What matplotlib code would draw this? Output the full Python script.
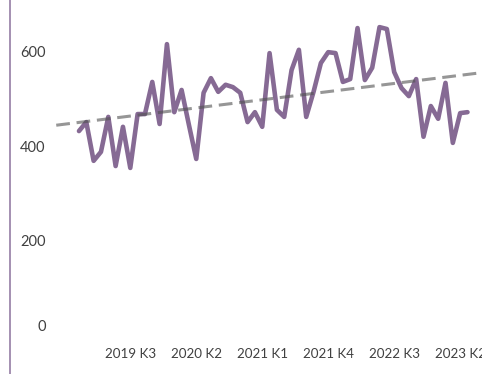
import numpy as np
import matplotlib.pyplot as plt
from matplotlib.lines import Line2D
from matplotlib.transforms import ScaledTranslation

# Monthly values, Jan 2019 - Jun 2023
values = [432, 451, 369, 388, 462, 358, 441, 354, 468, 468,
          536, 447, 616, 472, 519, 445, 373, 513, 544, 515,
          530, 525, 513, 451, 472, 441, 597, 477, 462, 561,
          604, 462, 515, 576, 599, 597, 536, 542, 650, 540,
          566, 652, 648, 557, 523, 506, 542, 420, 485, 458,
          534, 407, 470, 472]

# Category labels: year + quarter (K) for each month
months = [(2019 + m // 12, m % 12) for m in range(len(values))]
categories = [f"{y} K{mo // 3 + 1}" for y, mo in months]
label_idx = list(range(7, len(values), 9))

y_ticks = [0, 200, 400, 600]

line_color = "#866a94"
text_color = "#404040"
plt.rcParams["font.family"] = ["Lato", "DejaVu Sans"]

fig = plt.figure(figsize=(4.82, 3.74), dpi=100)
ax = fig.add_axes([55 / 482, 38.8 / 374, 427 / 482, 335.2 / 374])

x = np.arange(len(values))
ax.plot(x, values, color=line_color, lw=3.3, solid_joinstyle="round",
        solid_capstyle="round", zorder=2)

# Linear trend, extended a few periods back and forward
coef = np.polyfit(x, values, 1)
xt = np.array([-3.1, 56])
ax.plot(xt, np.polyval(coef, xt), color="#505050", alpha=0.6, lw=2.2,
        dashes=(4.5, 2.2), zorder=3)

ax.set_xlim(-3.27, 54.98)
ax.set_ylim(0, 709.4)
ax.set_yticks(y_ticks)
ax.set_yticklabels([str(v) for v in y_ticks])
ax.set_xticks(label_idx)
ax.set_xticklabels([categories[i] for i in label_idx])
ax.tick_params(axis="both", length=0, labelcolor=text_color)
ax.tick_params(axis="y", pad=6.7, labelsize=10.5)
ax.tick_params(axis="x", pad=9.5, labelsize=9.6)
for s in ax.spines.values():
    s.set_visible(False)

# keep the bottom "0" label inside the plot area
lbl0 = ax.get_yticklabels()[0]
lbl0.set_transform(lbl0.get_transform() + ScaledTranslation(0, 0.1, fig.dpi_scale_trans))

# chart border on the left
fig.add_artist(Line2D([9.5 / 482, 9.5 / 482], [0, 1], color="#9d87ab", lw=1.3))

fig.savefig("out.png", dpi=100)
